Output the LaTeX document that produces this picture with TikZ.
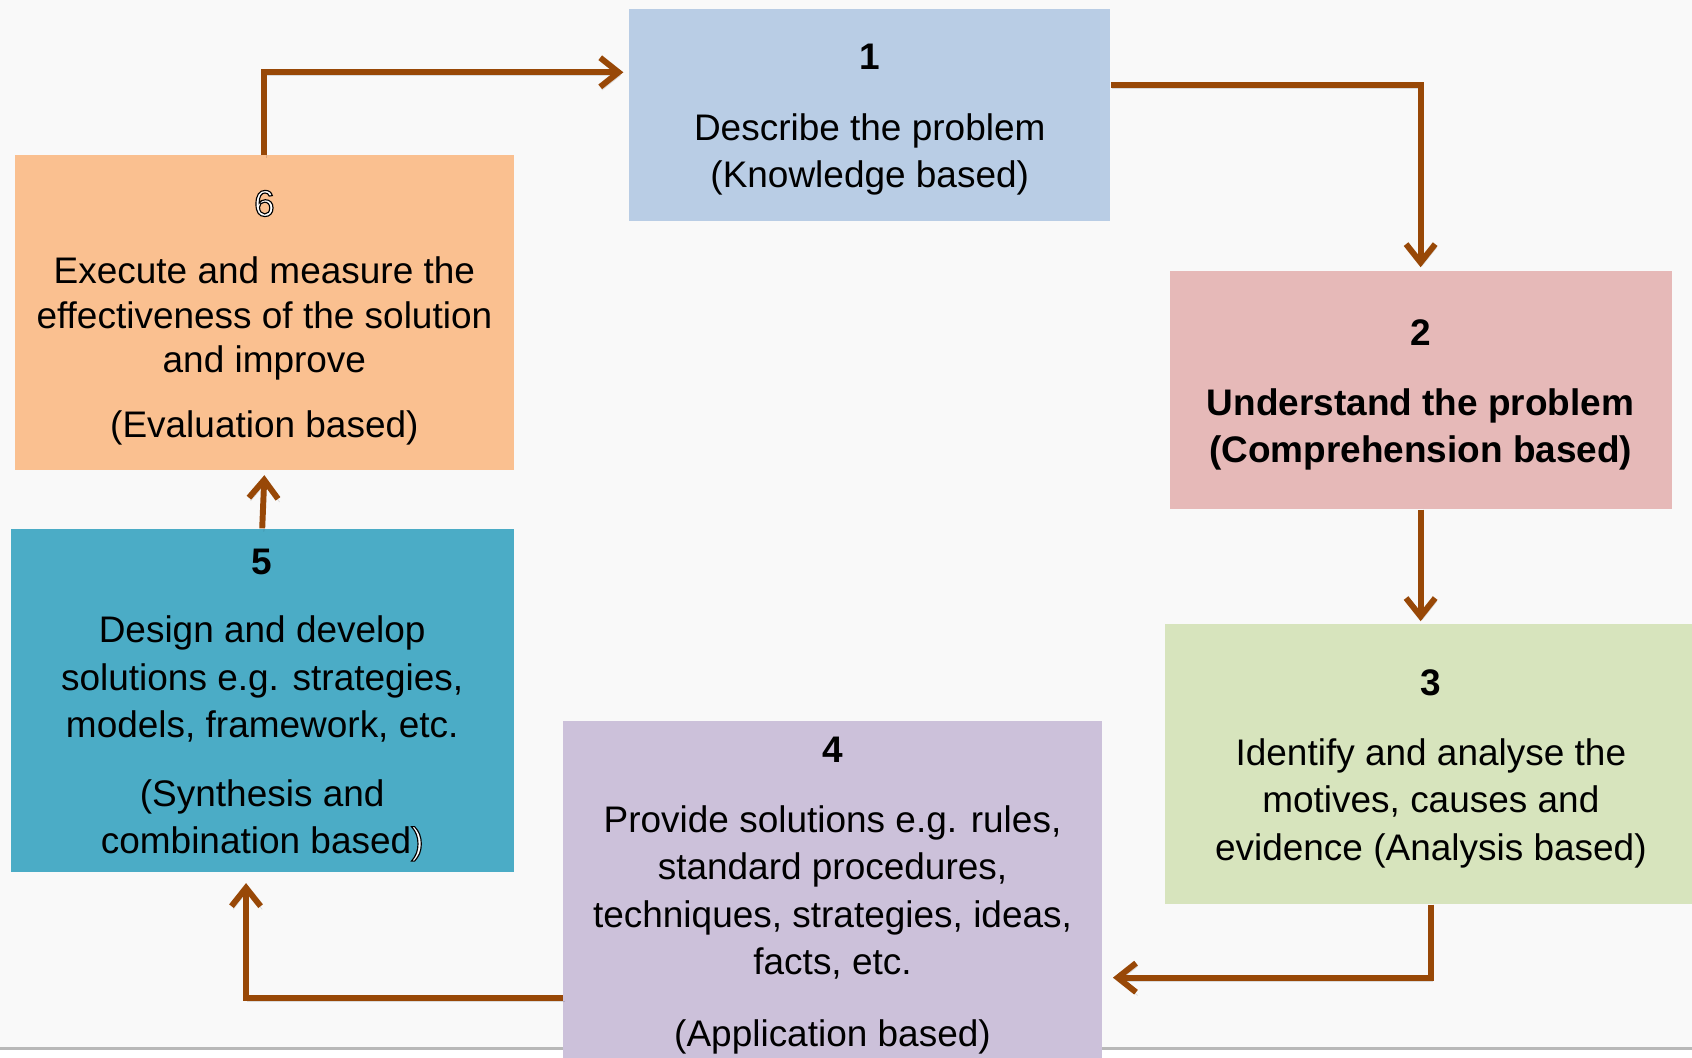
\documentclass[tikz,border=0pt]{standalone}
\usepackage{fontspec}
\setmainfont{Liberation Sans}
\usetikzlibrary{arrows.meta}
\definecolor{bgcol}{HTML}{F9F9F9}
\definecolor{arrcol}{HTML}{984807}
\definecolor{col1}{HTML}{B9CDE5}
\definecolor{col2}{HTML}{E6B9B8}
\definecolor{col3}{HTML}{D7E4BD}
\definecolor{col4}{HTML}{CCC1DA}
\definecolor{col5}{HTML}{4BACC6}
\definecolor{col6}{HTML}{FAC090}
\newcommand\boxfont{\fontsize{19.5pt}{25pt}\selectfont}
% stage number, with a little extra room above it
\newcommand\stagenum[1]{\rule{0pt}{18.5pt}\textbf{#1}}
% hollow digits (white fill, black outline)
\newcommand\hollow[1]{{\color{white}\special{pdf:code q 0 G 2 Tr 0.6 w}#1\special{pdf:code Q}}}
\tikzset{
  stage/.style={inner sep=0pt, align=center, font=\boxfont},
  arr/.style={draw=arrcol, line width=1.1mm, -{Straight Barb[length=3.4mm,width=5.4mm]},
    preaction={draw=black, opacity=0.12, transform canvas={shift={(0.3mm,-0.6mm)}}}}
}
\begin{document}
\begin{tikzpicture}[x=0.2mm,y=-0.2mm]
    \useasboundingbox (0,0) rectangle (1568,980);
    \clip (0,0) rectangle (1568,980);
    \fill[bgcol] (0,0) rectangle (1568,971);
    \fill[white] (0,971) rectangle (1568,980);
    \draw[black!28, line width=0.6mm] (0,972) -- (1568,972);
    \node[stage, fill=col1, minimum width=89.2mm, minimum height=39.4mm] (s1) at (806,106.5)
      {\stagenum{1}\\[12pt]Describe the problem\\(Knowledge based)};
    \node[stage, fill=col2, minimum width=93mm, minimum height=44.2mm, font=\boxfont\bfseries] (s2) at (1316.5,361.5)
      {\stagenum{2}\\[12pt]Understand the problem\\(Comprehension based)};
    \node[stage, fill=col3, minimum width=98.4mm, minimum height=52mm] (s3) at (1326,708)
      {\stagenum{3}\\[12pt]Identify and analyse the\\motives, causes and\\evidence (Analysis based)};
    \node[stage, fill=col4, minimum width=99.8mm, minimum height=63mm] (s4) at (771.5,825.5)
      {\stagenum{4}\\[12pt]Provide solutions e.g. rules,\\standard procedures,\\techniques, strategies, ideas,\\facts, etc.\\[13pt](Application based)};
    \node[stage, fill=col5, minimum width=93.2mm, minimum height=63.6mm] (s5) at (243,649)
      {\stagenum{5}\\[11pt]Design and develop\\solutions e.g. strategies,\\models, framework, etc.\\[11pt](Synthesis and\\combination based\hollow{)}};
    \node[stage, fill=col6, minimum width=92.4mm, minimum height=58.4mm, font=\fontsize{19.5pt}{23.5pt}\selectfont] (s6) at (245,290)
      {\rule{0pt}{18.5pt}\hollow{6}\\[12pt]Execute and measure the\\effectiveness of the solution\\and improve\\[10.5pt](Evaluation based)};
    \draw[arr] (s6.north) |- ([xshift=-1mm,yshift=7.9mm]s1.west);
    \draw[arr] ([yshift=5.5mm]s1.east) -| ([yshift=0.6mm]s2.north);
    \draw[arr] (s2.south) -- ([yshift=0.4mm]s2.south |- s3.north);
    \draw[arr] (s3.south) |- ([xshift=2mm,yshift=-16.1mm]s4.east);
    \draw[arr] ([yshift=-19.9mm]s4.west) -| ([xshift=-3mm,yshift=-2mm]s5.south);
    \draw[arr] (s5.north) -- ([yshift=-0.8mm]s6.south);
  \end{tikzpicture}
\end{document}
